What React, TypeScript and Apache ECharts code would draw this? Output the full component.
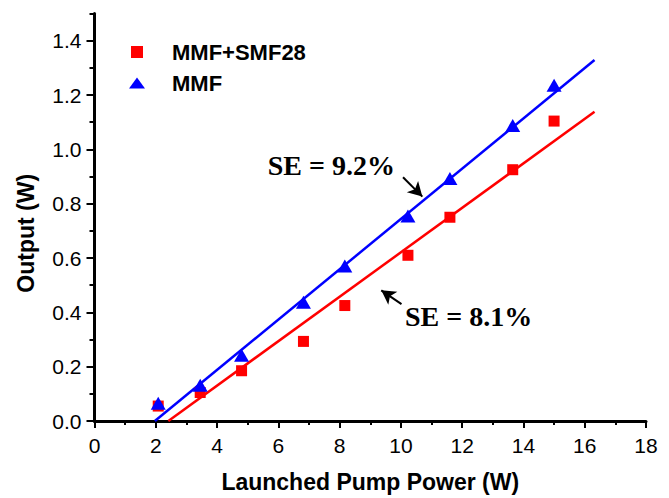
import React, { useEffect, useRef } from 'react';
import * as echarts from 'echarts';

// ---- data ----
const xTickValues = [0, 2, 4, 6, 8, 10, 12, 14, 16, 18];
const yTickValues = [0, 0.2, 0.4, 0.6, 0.8, 1.0, 1.2, 1.4];
const yMinorTickValues = [0.1, 0.3, 0.5, 0.7, 0.9, 1.1, 1.3, 1.5];

const pumpPower = [2.08, 3.45, 4.8, 6.82, 8.17, 10.23, 11.6, 13.65, 15.0];
const outputMMFSMF28 = [0.055, 0.105, 0.185, 0.293, 0.425, 0.61, 0.75, 0.925, 1.104];
const outputMMF = [0.065, 0.132, 0.242, 0.437, 0.571, 0.755, 0.893, 1.088, 1.236];

const fitMMFSMF28 = [[2.41, 0], [16.32, 1.138]];
const fitMMF = [[1.97, 0], [16.32, 1.329]];

const annotationTexts = ['SE = 9.2%', 'SE = 8.1%'];
const annotationPos = [[7.73, 0.94], [12.21, 0.384]];
const arrowTails = [[10.07, 0.897], [10.02, 0.43]];
const arrowHeads = [[10.7, 0.826], [9.36, 0.481]];

const RED = '#ff0000';
const BLUE = '#0000ff';
const SANS = 'Liberation Sans, Arial, sans-serif';
const SERIF = 'Liberation Serif, Times New Roman, serif';

export default function App() {
  const ref = useRef<HTMLDivElement>(null);

  useEffect(() => {
    if (!ref.current) return;
    const chart = echarts.init(ref.current, undefined, { renderer: 'svg' });

    const zip = (xs: number[], ys: number[]) => xs.map((x, i) => [x, ys[i]]);

    const option: any = {
      animation: false,
      backgroundColor: '#ffffff',
      grid: { left: 94.5, right: 23, top: 13.5, bottom: 73.5, containLabel: false },
      legend: [
        {
          data: [{ name: 'MMF+SMF28', icon: 'rect' }],
          orient: 'vertical',
          left: 131,
          top: 41,
          padding: 0,
          itemWidth: 12,
          itemHeight: 12,
          textStyle: { fontFamily: SANS, fontWeight: 'bold', fontSize: 22, color: '#000', padding: [0, 0, 0, 24] },
          selectedMode: false,
        },
        {
          data: [{ name: 'MMF', icon: 'triangle' }],
          orient: 'vertical',
          left: 129,
          top: 72,
          padding: 0,
          itemWidth: 16,
          itemHeight: 11,
          textStyle: { fontFamily: SANS, fontWeight: 'bold', fontSize: 22, color: '#000', padding: [0, 0, 0, 22] },
          selectedMode: false,
        },
      ],
      xAxis: {
        type: 'value',
        min: 0,
        max: 18,
        interval: 2,
        name: 'Launched Pump Power (W)',
        nameLocation: 'middle',
        nameGap: 49,
        nameTextStyle: { fontFamily: SANS, fontWeight: 'bold', fontSize: 23, color: '#000' },
        axisLine: { onZero: false, lineStyle: { color: '#000', width: 3 } },
        axisTick: { show: true, inside: false, length: 7, lineStyle: { color: '#000', width: 2 }, customValues: xTickValues },
        minorTick: { show: true, splitNumber: 2, length: 4, lineStyle: { color: '#000', width: 2 } },
        axisLabel: { margin: 14, fontFamily: SANS, fontSize: 21, color: '#000', customValues: xTickValues },
        splitLine: { show: false },
        minorSplitLine: { show: false },
      },
      yAxis: [
        {
          type: 'value',
          min: 0,
          max: 1.5,
          position: 'left',
          name: 'Output (W)',
          nameLocation: 'middle',
          nameGap: 57,
          nameTextStyle: { fontFamily: SANS, fontWeight: 'bold', fontSize: 23, color: '#000', padding: [0, 32, 0, 0] },
          axisLine: { show: true, onZero: false, lineStyle: { color: '#000', width: 3 } },
          axisTick: { show: true, inside: false, length: 8, lineStyle: { color: '#000', width: 2 }, customValues: yTickValues },
          axisLabel: {
            margin: 13,
            fontFamily: SANS,
            fontSize: 21,
            color: '#000',
            customValues: yTickValues,
            formatter: (v: number) => v.toFixed(1),
          },
          splitLine: { show: false },
        },
        {
          type: 'value',
          min: 0,
          max: 1.5,
          position: 'left',
          offset: 0,
          axisLine: { show: false },
          axisTick: { show: true, inside: false, length: 5, lineStyle: { color: '#000', width: 2 }, customValues: yMinorTickValues },
          axisLabel: { show: false, customValues: yMinorTickValues },
          splitLine: { show: false },
        },
      ],
      series: [
        {
          name: 'fit MMF+SMF28',
          type: 'line',
          data: fitMMFSMF28,
          symbol: 'none',
          lineStyle: { color: RED, width: 2.5 },
          itemStyle: { color: RED },
          z: 2,
          silent: true,
        },
        {
          name: 'fit MMF',
          type: 'line',
          data: fitMMF,
          symbol: 'none',
          lineStyle: { color: BLUE, width: 2.5 },
          itemStyle: { color: BLUE },
          z: 2,
          silent: true,
          markLine: {
            silent: true,
            symbol: ['none', 'arrow'],
            symbolSize: [12, 14],
            label: { show: false },
            lineStyle: { color: '#000', width: 2, type: 'solid' },
            data: arrowTails.map((t, i) => [{ coord: t }, { coord: arrowHeads[i] }]),
          },
          markPoint: {
            silent: true,
            symbol: 'rect',
            symbolSize: 1,
            itemStyle: { color: 'rgba(0,0,0,0)' },
            label: {
              show: true,
              position: 'inside',
              formatter: '{b}',
              fontFamily: SERIF,
              fontWeight: 'bold',
              fontSize: 28,
              color: '#000',
            },
            data: annotationTexts.map((t, i) => ({ name: t, coord: annotationPos[i] })),
          },
        },
        {
          name: 'MMF+SMF28',
          type: 'scatter',
          data: zip(pumpPower, outputMMFSMF28),
          symbol: 'rect',
          symbolSize: 11,
          itemStyle: { color: RED, opacity: 1 },
          z: 3,
        },
        {
          name: 'MMF',
          type: 'scatter',
          data: zip(pumpPower, outputMMF),
          symbol: 'triangle',
          symbolSize: [15, 13],
          itemStyle: { color: BLUE, opacity: 1 },
          z: 4,
        },
      ],
    };

    chart.setOption(option);
    return () => chart.dispose();
  }, []);

  return (
    <div
      ref={ref}
      style={{ position: 'absolute', left: 0, top: 0, width: 669, height: 498, background: '#fff' }}
    />
  );
}
